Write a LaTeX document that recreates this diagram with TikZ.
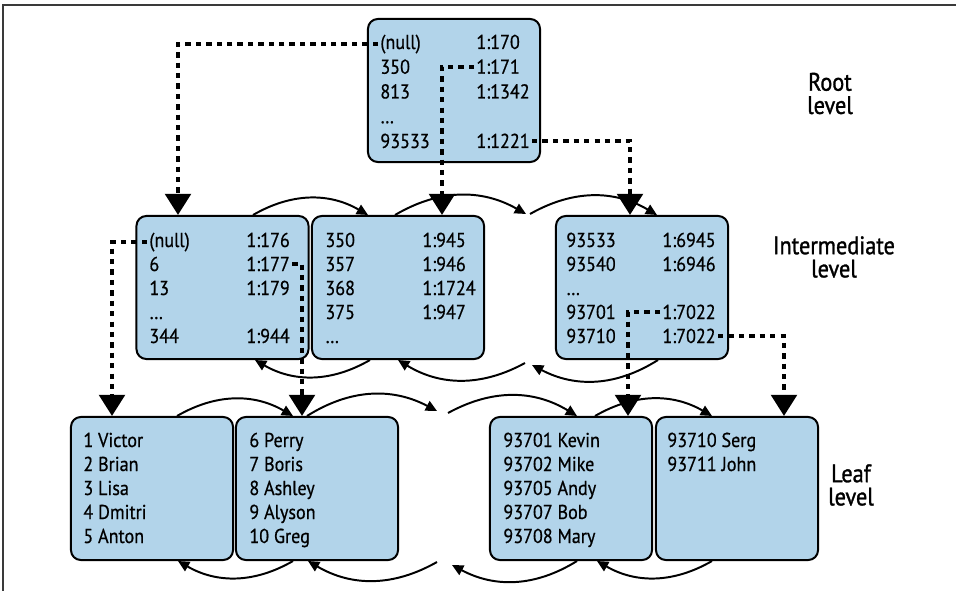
\documentclass[tikz,border=0pt]{standalone}
\usepackage{fontspec}
\setmainfont{PT Sans}[FakeStretch=0.9, FakeBold=0.6]
\newfontfamily\labelfont{PT Sans}[FakeStretch=0.88, FakeBold=1.2]
\usetikzlibrary{positioning,calc,arrows.meta}

\definecolor{pageblue}{HTML}{B2D4EA}
\definecolor{framegray}{HTML}{3A3A3A}

\tikzset{
    pagebox/.style={draw, line width=1.4pt, rounded corners=7pt, fill=pageblue,
        minimum width=4.3cm, minimum height=3.575cm},
    leafbox/.style={pagebox, minimum width=4.05cm},
    rowtext/.style={anchor=base west, inner sep=1.5pt, font=\fontsize{14.3pt}{17pt}\selectfont},
    levellabel/.style={align=center, inner sep=0pt, font=\labelfont\fontsize{18pt}{16.5pt}\selectfont},
    pointer/.style={line width=3.1pt, dash pattern=on 3.8pt off 3.6pt,
        -{Triangle[width=18pt,length=15pt]}},
    link/.style={line width=1.4pt, bend left=30, -{Triangle[width=7.5pt,length=8pt]}}
}

\begin{document}
\begin{tikzpicture}[x=0.025cm, y=-0.025cm, every node/.style={}]
    \useasboundingbox (0,0) rectangle (956,591);
    \draw[framegray, line width=1pt] (3,591) -- (3,5) -- (956,5);

    % pages
    \node[pagebox] (box_root) at (454,90.5) {};
    \node[pagebox] (box_int1) at (222.5,287.5) {};
    \node[pagebox] (box_int2) at (398,287.5) {};
    \node[pagebox] (box_int3) at (642,287.5) {};
    \node[leafbox] (box_leaf1) at (152,488.5) {};
    \node[leafbox] (box_leaf2) at (317,488.5) {};
    \node[leafbox] (box_leaf3) at (571,488.5) {};
    \node[leafbox] (box_leaf4) at (737,488.5) {};

    % rows
    \foreach \k/\p [count=\i] in {(null)/1:170, 350/1:171, 813/1:1342, \ldots/{}, 93533/1:1221}
    {
        \node[rowtext] (root_k\i) at (378,{49+24.75*(\i-1)}) {\k};
        \node[rowtext] (root_p\i) at (474,{49+24.75*(\i-1)}) {\p};
    }
    \foreach \k/\p [count=\i] in {(null)/1:176, 6/1:177, 13/1:179, \ldots/{}, 344/1:944}
    {
        \node[rowtext] (int1_k\i) at (147,{247+24*(\i-1)}) {\k};
        \node[rowtext] (int1_p\i) at (244,{247+24*(\i-1)}) {\p};
    }
    \foreach \k/\p [count=\i] in {350/1:945, 357/1:946, 368/1:1724, 375/1:947, \ldots/{}}
    {
        \node[rowtext] (int2_k\i) at (323,{247+24*(\i-1)}) {\k};
        \node[rowtext] (int2_p\i) at (420,{247+24*(\i-1)}) {\p};
    }
    \foreach \k/\p [count=\i] in {93533/1:6945, 93540/1:6946, \ldots/{}, 93701/1:7022, 93710/1:7022}
    {
        \node[rowtext] (int3_k\i) at (564,{247+24*(\i-1)}) {\k};
        \node[rowtext] (int3_p\i) at (660,{247+24*(\i-1)}) {\p};
    }
    \foreach \t [count=\i] in {1 Victor, 2 Brian, 3 Lisa, 4 Dmitri, 5 Anton}
        \node[rowtext] (leaf1_r\i) at (81,{447+24*(\i-1)}) {\t};
    \foreach \t [count=\i] in {6 Perry, 7 Boris, 8 Ashley, 9 Alyson, 10 Greg}
        \node[rowtext] (leaf2_r\i) at (247,{447+24*(\i-1)}) {\t};
    \foreach \t [count=\i] in {93701 Kevin, 93702 Mike, 93705 Andy, 93707 Bob, 93708 Mary}
        \node[rowtext] (leaf3_r\i) at (501,{447+24*(\i-1)}) {\t};
    \foreach \t [count=\i] in {93710 Serg, 93711 John}
        \node[rowtext] (leaf4_r\i) at (665,{447+24*(\i-1)}) {\t};

    % level labels
    \node[levellabel] (lbl_root) at (830,93.5) {Root\\level};
    \node[levellabel] (lbl_int) at (834,257) {Intermediate\\level};
    \node[levellabel] (lbl_leaf) at (851,485) {Leaf\\level};

    % free ends between pages
    \coordinate (igap_t_in) at (526,214);
    \coordinate (igap_t_out) at (530,214);
    \coordinate (igap_b_out) at (525,363);
    \coordinate (igap_b_in) at (532,365);
    \coordinate (lgap_t_in) at (437,411);
    \coordinate (lgap_t_out) at (448,413);
    \coordinate (lgap_b_out) at (437,562);
    \coordinate (lgap_b_in) at (452,565);

    % page links
    \draw[link] ($(box_int1.north)+(30.5,0)$) to ($(box_int2.north)+(-30,0)$);
    \draw[link] ($(box_int2.north)+(-3,0)$) to (igap_t_in);
    \draw[link] (igap_t_out) to ($(box_int3.north)+(15,0)$);
    \draw[link] ($(box_int2.south)+(-28,0)$) to ($(box_int1.south)+(32.5,0)$);
    \draw[link] (igap_b_out) to (box_int2.south);
    \draw[link] ($(box_int3.south)+(16,0)$) to (igap_b_in);
    \draw[link] ($(box_leaf1.north)+(25,0)$) to ($(box_leaf2.north)+(-24,0)$);
    \draw[link] ($(box_leaf2.north)+(-10,0)$) to (lgap_t_in);
    \draw[link] (lgap_t_out) to ($(box_leaf3.north)+(6,0)$);
    \draw[link] ($(box_leaf3.north)+(24,0)$) to ($(box_leaf4.north)+(-25,0)$);
    \draw[link] ($(box_leaf2.south)+(-24,0)$) to ($(box_leaf1.south)+(26,0)$);
    \draw[link] (lgap_b_out) to ($(box_leaf2.south)+(-9,0)$);
    \draw[link] ($(box_leaf3.south)+(6,0)$) to (lgap_b_in);
    \draw[link] ($(box_leaf4.south)+(-25,0)$) to ($(box_leaf3.south)+(26,0)$);

    % child pointers
    \draw[pointer] (root_k1.west) -| ($(box_int1.north)+(-44.5,0)$);
    \draw[pointer] (root_p2.west) -| ($(box_int2.north)+(44,0)$);
    \draw[pointer] (root_p5.east) -| ($(box_int3.north)+(-12,0)$);
    \draw[pointer] (int1_k1.west) -| ($(box_leaf1.north)+(-40,0)$);
    \draw[pointer] (int1_p2.east) -| ($(box_leaf2.north)+(-15,0)$);
    \draw[pointer] (int3_p4.west) -| ($(box_leaf3.north)+(57,0)$);
    \draw[pointer] (int3_p5.east) -| ($(box_leaf4.north)+(47,0)$);
\end{tikzpicture}
\end{document}
